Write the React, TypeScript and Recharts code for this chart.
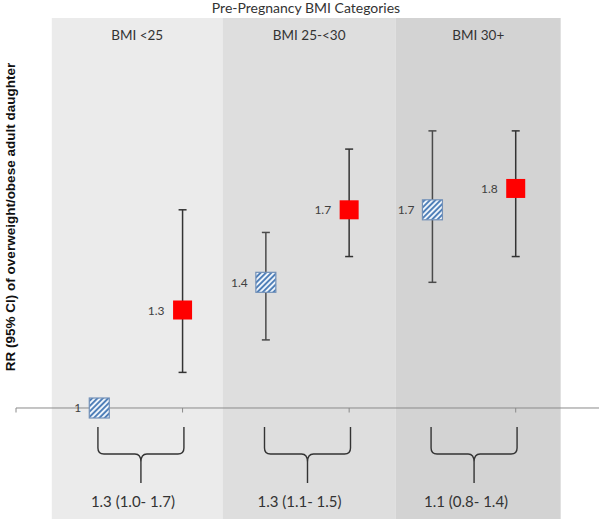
import React from 'react';
import {
  ComposedChart,
  Scatter,
  XAxis,
  YAxis,
  ReferenceArea,
  ReferenceLine,
  ErrorBar,
} from 'recharts';

// ---- data ----
const categories = ['BMI <25', 'BMI 25-<30', 'BMI 30+'];
const panelBounds = [
  [0.43, 2.48],
  [2.48, 4.56],
  [4.56, 6.54],
];
const hatchedX = [1, 3, 5];
const hatchedRR = [1.0, 1.4, 1.7];
const hatchedLo = [1.0, 1.2, 1.4];
const hatchedHi = [1.0, 1.6, 2.1];
const redX = [2, 4, 6];
const redRR = [1.3, 1.7, 1.8];
const redLo = [1.1, 1.5, 1.5];
const redHi = [1.7, 2.0, 2.1];
const braceX = [1.5, 3.5, 5.5];
const braceLabels = ['1.3 (1.0- 1.7)', '1.3 (1.1- 1.5)', '1.1 (0.8- 1.4)'];
const axisTicks = [0, 2, 4, 6];

const title = 'Pre-Pregnancy BMI Categories';
const yLabel = 'RR (95%  CI) of overweight/obese adult daughter';

// ---- derived tables ----
const hatchedData = hatchedX.map((x, i) => ({
  x,
  y: hatchedRR[i],
  err: [hatchedRR[i] - hatchedLo[i], hatchedHi[i] - hatchedRR[i]],
}));
const redData = redX.map((x, i) => ({
  x,
  y: redRR[i],
  err: [redRR[i] - redLo[i], redHi[i] - redRR[i]],
}));
const braceData = braceX.map((x, i) => ({ x, y: 1, label: braceLabels[i] }));

const panelFills = ['#ebebeb', '#dedede', '#d3d3d3'];
const W = 602;
const H = 519;
const FONT = 'Lato, "Noto Sans", sans-serif';

const HatchMarker = (p: any) => {
  const { cx, cy, payload } = p;
  if (cx == null || cy == null) return null;
  return (
    <g>
      <rect
        x={cx - 10}
        y={cy - 10}
        width={20}
        height={20}
        fill="url(#hatchPattern)"
        stroke="#7391b8"
        strokeWidth={1.2}
      />
      <text
        x={cx - 18}
        y={cy}
        textAnchor="end"
        dominantBaseline="central"
        fontSize={12}
        fontFamily={FONT}
        fill="#404040"
      >
        {String(payload.y)}
      </text>
    </g>
  );
};

const RedMarker = (p: any) => {
  const { cx, cy, payload } = p;
  if (cx == null || cy == null) return null;
  return (
    <g>
      <rect x={cx - 9.5} y={cy - 9.5} width={19} height={19} fill="#ff0000" />
      <text
        x={cx - 18}
        y={cy}
        textAnchor="end"
        dominantBaseline="central"
        fontSize={12}
        fontFamily={FONT}
        fill="#404040"
      >
        {String(payload.y)}
      </text>
    </g>
  );
};

const Brace = (p: any) => {
  const { cx, cy, payload } = p;
  if (cx == null || cy == null) return null;
  const L = cx - 43;
  const R = cx + 43;
  const t = cy + 19;
  const h = cy + 46;
  const tip = cy + 75;
  const d =
    `M${L},${t} L${L},${h - 6} Q${L},${h} ${L + 6},${h} L${cx - 6},${h} Q${cx},${h} ${cx},${h + 8} L${cx},${tip} ` +
    `M${R},${t} L${R},${h - 6} Q${R},${h} ${R - 6},${h} L${cx + 6},${h} Q${cx},${h} ${cx},${h + 8}`;
  return (
    <g>
      <path d={d} fill="none" stroke="#333" strokeWidth={1.4} />
      <text
        x={cx - 8}
        y={cy + 99}
        textAnchor="middle"
        fontSize={15}
        fontFamily={FONT}
        fill="#333"
      >
        {payload.label}
      </text>
    </g>
  );
};

export default function App() {
  return (
    <div style={{ position: 'absolute', left: 0, top: 0, width: W, height: H, background: '#fff' }}>
      <ComposedChart
        width={W}
        height={H}
        margin={{ top: 18, right: 3, bottom: 0, left: 16 }}
      >
        <XAxis type="number" dataKey="x" domain={[0, 7]} hide allowDataOverflow />
        <YAxis
          type="number"
          dataKey="y"
          scale="log"
          domain={[0.7429, 2.841]}
          allowDataOverflow
          hide
        />
        {panelBounds.map((b, i) => (
          <ReferenceArea
            key={'p' + i}
            x1={b[0]}
            x2={b[1]}
            fill={panelFills[i]}
            fillOpacity={1}
            stroke="none"
            ifOverflow="hidden"
            label={{
              value: categories[i],
              position: 'insideTop',
              offset: 12,
              fill: '#333',
              fontSize: 13.5,
              fontFamily: FONT,
            }}
          />
        ))}
        <ReferenceLine y={1} stroke="#8a8a8a" strokeWidth={1} />
        {axisTicks.map((t) => (
          <ReferenceLine
            key={'t' + t}
            segment={[
              { x: t, y: 1 },
              { x: t, y: 0.988 },
            ]}
            stroke="#8a8a8a"
            strokeWidth={1}
          />
        ))}
        <Scatter
          data={braceData}
          dataKey="y"
          isAnimationActive={false}
          shape={(p: any) => <Brace {...p} />}
        />
        <Scatter
          data={hatchedData}
          dataKey="y"
          isAnimationActive={false}
          shape={(p: any) => <HatchMarker {...p} />}
        >
          <ErrorBar dataKey="err" direction="y" width={4} stroke="#4a4a4a" strokeWidth={1.5} isAnimationActive={false} />
        </Scatter>
        <Scatter
          data={redData}
          dataKey="y"
          isAnimationActive={false}
          shape={(p: any) => <RedMarker {...p} />}
        >
          <ErrorBar dataKey="err" direction="y" width={4} stroke="#333" strokeWidth={1.5} isAnimationActive={false} />
        </Scatter>
      </ComposedChart>
      <svg
        width={W}
        height={H}
        style={{ position: 'absolute', left: 0, top: 0, pointerEvents: 'none' }}
      >
        <defs>
          <pattern
            id="hatchPattern"
            patternUnits="userSpaceOnUse"
            width="3.8"
            height="3.8"
            patternTransform="rotate(45)"
          >
            <rect width="3.8" height="3.8" fill="#eef4fb" />
            <rect width="1.9" height="3.8" fill="#4f7fb8" />
          </pattern>
        </defs>
        <text x={306} y={13} textAnchor="middle" fontSize={14} fontFamily={FONT} fill="#333">
          {title}
        </text>
        <text
          x={10}
          y={217}
          transform="rotate(-90 10 217)"
          textAnchor="middle"
          dominantBaseline="central"
          fontSize={13.5}
          fontWeight="bold"
          fontFamily='"Liberation Sans", Arial, sans-serif'
          fill="#111"
        >
          {yLabel}
        </text>
      </svg>
    </div>
  );
}
